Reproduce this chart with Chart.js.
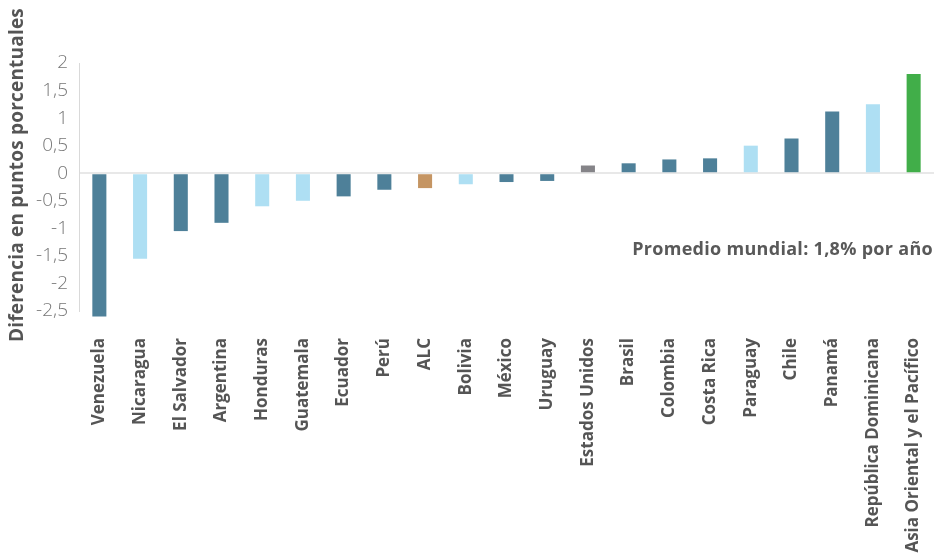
<!DOCTYPE html>
<html><head><meta charset="utf-8">
<script src="https://cdn.jsdelivr.net/npm/chart.js@4"></script>
<style>html,body{margin:0;padding:0;background:#fff}#wrap{width:937px;height:554px;position:relative}</style>
</head><body><div id="wrap"><canvas id="c" width="937" height="554"></canvas></div>
<script>
const categories = ["Venezuela","Nicaragua","El Salvador","Argentina","Honduras","Guatemala","Ecuador","Perú","ALC","Bolivia","México","Uruguay","Estados Unidos","Brasil","Colombia","Costa Rica","Paraguay","Chile","Panamá","República Dominicana","Asia Oriental y el Pacífico"];
const values = [-2.6,-1.55,-1.05,-0.9,-0.6,-0.5,-0.42,-0.3,-0.27,-0.2,-0.16,-0.14,0.14,0.18,0.25,0.27,0.5,0.63,1.12,1.25,1.8];
const groups = ["d","l","d","d","l","l","d","d","alc","l","d","d","us","d","d","d","l","d","d","l","asia"];
const yTicks = [2,1.5,1,0.5,0,-0.5,-1,-1.5,-2,-2.5];
const palette = {d:"#4e8099", l:"#aedff3", alc:"#c59563", us:"#858488", asia:"#41ae49"};
const yTitle = "Diferencia en puntos porcentuales";
const annotation = "Promedio mundial: 1,8% por año";

const textPlugin = {
  id:"texts",
  afterDraw(chart){
    const ctx = chart.ctx;
    ctx.save();
    ctx.font = "bold 18px 'Open Sans'";
    try{ ctx.letterSpacing = "0.3px"; }catch(e){}
    ctx.fillStyle = "#595959";
    ctx.textAlign = "right";
    ctx.textBaseline = "middle";
    ctx.fillText(annotation, chart.chartArea.right - 1, 250);
    ctx.restore();

    ctx.save();
    ctx.font = "bold 19px 'Open Sans'";
    try{ ctx.letterSpacing = "0.2px"; }catch(e){}
    ctx.fillStyle = "#555";
    ctx.textAlign = "center";
    ctx.textBaseline = "middle";
    ctx.translate(18, 175);
    ctx.rotate(-Math.PI/2);
    ctx.fillText(yTitle, 0, 0);
    ctx.restore();
  }
};

new Chart(document.getElementById("c"), {
  type:"bar",
  data:{labels:categories, datasets:[{data:values, backgroundColor:groups.map(g=>palette[g]), barPercentage:0.345, categoryPercentage:1, clip:false, borderWidth:0}]},
  options:{
    responsive:false, animation:false,
    layout:{padding:{top:63,right:3,left:0,bottom:0}},
    plugins:{legend:{display:false}, tooltip:{enabled:false}},
    scales:{
      x:{
        grid:{display:false, drawTicks:false},
        border:{display:false},
        ticks:{autoSkip:false, maxRotation:90, minRotation:90, padding:27, color:"#555", font:{family:"'Open Sans'", weight:"bold", size:17}},
        afterFit(s){ s.height = 554-63-248; s.paddingLeft = 0; s.paddingRight = 0; }
      },
      y:{
        min:-2.5, max:2,
        afterBuildTicks(s){ s.ticks = yTicks.map(v=>({value:v})); },
        grid:{drawTicks:false, color:(c)=> c.tick && c.tick.value===0 ? "#e8e8e8" : "rgba(0,0,0,0)", lineWidth:2},
        border:{display:true, color:"#d9d9d9", width:1},
        ticks:{padding:11, color:"#777", font:{family:"'Open Sans'", weight:"300", size:19}, callback:(v)=>String(v).replace(".",",")},
        afterFit(s){ s.width = 79; }
      }
    }
  },
  plugins:[textPlugin]
});
</script></body></html>
